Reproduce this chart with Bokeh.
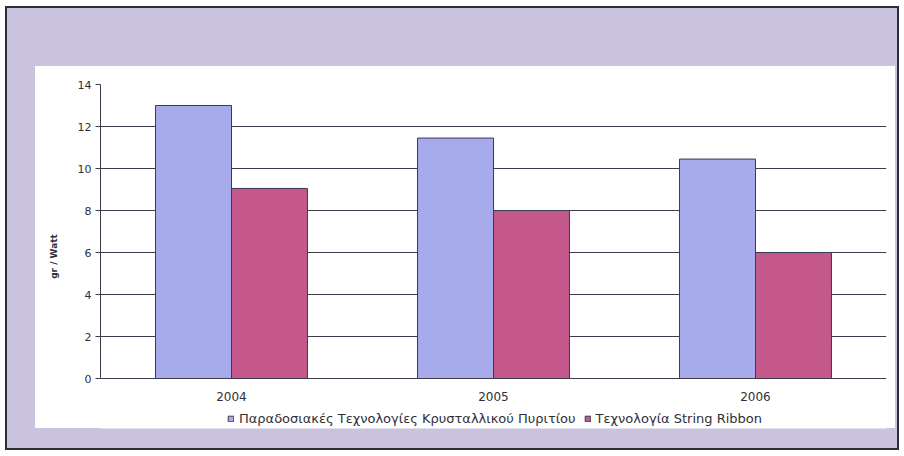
from bokeh.plotting import figure
from bokeh.models import (ColumnDataSource, Legend, LegendItem, Grid,
                          FactorRange, FixedTicker, Range1d)
from bokeh.transform import dodge
from bokeh.embed import file_html
from bokeh.resources import INLINE

years = ["2004", "2005", "2006"]
series_names = ["Παραδοσιακές Τεχνολογίες Κρυσταλλικού Πυριτίου",
                "Τεχνολογία String Ribbon"]
crystalline = [13.0, 11.45, 10.45]
string_ribbon = [9.05, 8.0, 6.0]
y_ticks = [0, 2, 4, 6, 8, 10, 12, 14]
y_label = "gr / Watt"

BLUE = "#a7abec"
RED = "#c4588a"
LAVENDER = "#c9c3de"
GRID = "#3c3c4c"
TXT = "#2f2f3a"
FONT = "DejaVu Sans"

source = ColumnDataSource(dict(year=years, a=crystalline, b=string_ribbon))

# page decoration (scanned frame): dark border, lavender panel, white chart area
bg = ("linear-gradient(#ffffff,#ffffff) 35px 66px / 860px 362px no-repeat, "
      f"linear-gradient({LAVENDER},{LAVENDER}) 7px 8px / 890px 440px no-repeat, "
      "linear-gradient(#2e2e38,#2e2e38) 5px 6px / 894px 444px no-repeat, #ffffff")

# frame spans the chart area down to the legend; y=0 sits 50px above its bottom
p = figure(width=904, height=456, x_range=FactorRange(*years),
           y_range=Range1d(-50 / 21.0, 14),
           output_backend="svg", toolbar_location=None,
           min_border_left=100, min_border_right=18,
           min_border_top=84, min_border_bottom=28,
           styles={"background": bg})
p.border_fill_alpha = 0
p.background_fill_color = "white"
p.outline_line_color = None

r1 = p.vbar(x=dodge("year", -0.145, range=p.x_range), top="a", width=0.29,
            source=source, fill_color=BLUE, line_color="#3a3a55", line_width=1)
r2 = p.vbar(x=dodge("year", 0.145, range=p.x_range), top="b", width=0.29,
            source=source, fill_color=RED, line_color="#3a3a55", line_width=1)

p.xgrid.grid_line_color = None
p.ygrid.ticker = FixedTicker(ticks=y_ticks[1:-1])
p.ygrid.grid_line_color = GRID
p.ygrid.grid_line_width = 1
top_grid = Grid(dimension=1, ticker=FixedTicker(ticks=y_ticks[-1:]),
                grid_line_color="#bdb9d6", grid_line_width=1)
p.add_layout(top_grid)

p.yaxis.ticker = FixedTicker(ticks=y_ticks)
p.yaxis.bounds = (y_ticks[0], y_ticks[-1])
p.yaxis.minor_tick_line_color = None
p.yaxis.major_tick_out = 5
p.yaxis.major_tick_in = 0
p.yaxis.axis_line_color = GRID
p.yaxis.major_tick_line_color = GRID
p.yaxis.major_label_standoff = 4
p.yaxis.major_label_text_font = FONT
p.yaxis.major_label_text_font_size = "11px"
p.yaxis.major_label_text_color = TXT
p.yaxis.axis_label = y_label
p.yaxis.axis_label_text_font = FONT
p.yaxis.axis_label_text_font_size = "9px"
p.yaxis.axis_label_text_font_style = "bold"
p.yaxis.axis_label_text_color = TXT
p.yaxis.axis_label_standoff = 16

p.xaxis.fixed_location = 0
p.xaxis.axis_line_color = GRID
p.xaxis.major_tick_line_color = None
p.xaxis.minor_tick_line_color = None
p.xaxis.major_label_standoff = 7
p.xaxis.major_label_text_font = FONT
p.xaxis.major_label_text_font_size = "12px"
p.xaxis.major_label_text_color = TXT

legend = Legend(items=[LegendItem(label=series_names[0], renderers=[r1]),
                       LegendItem(label=series_names[1], renderers=[r2])],
                orientation="horizontal", location=(127, 2),
                background_fill_alpha=0, border_line_color=None,
                padding=0, margin=0, spacing=8,
                glyph_width=7, glyph_height=7, label_standoff=5,
                label_text_font=FONT, label_text_font_size="13px",
                label_text_color=TXT, label_height=13)
p.add_layout(legend)

open("out.html", "w").write(file_html(p, INLINE))
